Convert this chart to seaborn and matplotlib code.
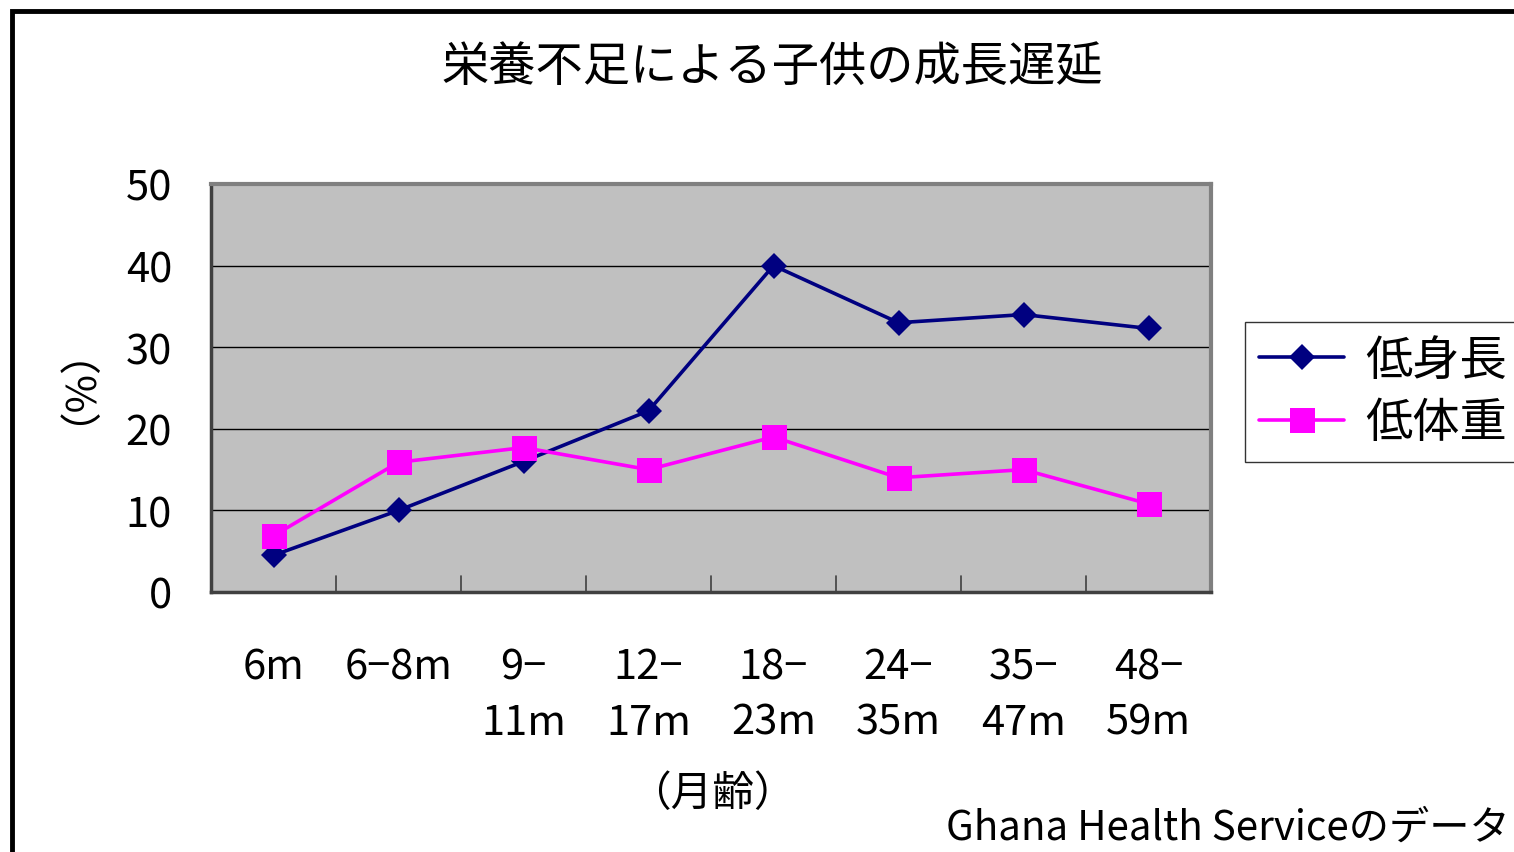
import matplotlib
matplotlib.use("Agg")
import matplotlib.pyplot as plt
import matplotlib.patches as patches
import numpy as np
import seaborn as sns

# データ
categories = ["6m", "6−8m", "9−\n11m", "12−\n17m", "18−\n23m", "24−\n35m", "35−\n47m", "48−\n59m"]
low_height = [4.5, 10, 16, 22.2, 40, 33, 34, 32.3]
low_weight = [6.9, 15.9, 17.7, 15, 19, 14, 15, 10.8]
series_names = ["低身長", "低体重"]

sns.set_style("white")
plt.rcParams['font.family'] = ['Noto Sans CJK JP', 'DejaVu Sans']
plt.rcParams['text.color'] = 'black'
plt.rcParams['xtick.color'] = 'black'
plt.rcParams['ytick.color'] = 'black'
plt.rcParams['axes.labelcolor'] = 'black'

pos = np.arange(len(categories))

fig = plt.figure(figsize=(15.14, 8.53), dpi=100)
ax = fig.add_axes([211 / 1514, 1 - 593 / 853, 1000 / 1514, 408 / 853])
ax.set_facecolor("#C0C0C0")

sns.lineplot(x=pos, y=low_height, color="#000080", marker="D", markersize=13,
             markeredgewidth=0, linewidth=2.6, label=series_names[0], ax=ax)
sns.lineplot(x=pos, y=low_weight, color="#FF00FF", marker="s", markersize=18,
             markeredgewidth=0, linewidth=2.6, label=series_names[1], ax=ax)

ax.set_xlim(-0.5, len(categories) - 0.5)
ax.set_ylim(0, 50)
ax.set_yticks([0, 10, 20, 30, 40, 50])
ax.set_xticks(pos)
ax.set_xticklabels(categories, fontsize=30, linespacing=1.45)
ax.tick_params(axis="y", labelsize=30, direction="in", length=10, width=1.5, pad=28)
ax.tick_params(axis="x", length=0, pad=39)
for v in [10, 20, 30, 40]:
    ax.axhline(v, color="black", lw=1, zorder=0.5)
for b in pos[:-1] + 0.5:
    ax.plot([b, b], [0, 2], color="#404040", lw=1.2, zorder=0.6)
for s in ["left", "bottom"]:
    ax.spines[s].set_color("#404040")
    ax.spines[s].set_linewidth(2.5)
for s in ["top", "right"]:
    ax.spines[s].set_color("#808080")
    ax.spines[s].set_linewidth(3)

ax.set_xlabel("（月齢）", fontsize=30)
ax.xaxis.set_label_coords((712 - 211) / 1000, (593 - 795) / 408)
ax.xaxis.label.set_va("center")
ax.set_ylabel("（%）", fontsize=30)
ax.yaxis.set_label_coords(-0.154, 0.561)
ax.yaxis.label.set_va("center")

leg = ax.legend(loc="upper left", bbox_to_anchor=(1245 / 1514, 1 - 323 / 853),
                bbox_transform=fig.transFigure, fontsize=34, frameon=True,
                fancybox=False, edgecolor="black", handlelength=1.8,
                borderpad=0.3, labelspacing=0.3, handletextpad=0.45, borderaxespad=0)
leg.get_frame().set_linewidth(1)

fig.text(772 / 1514, 1 - 68 / 853, "栄養不足による子供の成長遅延", fontsize=34,
         ha="center", va="center")
fig.text(1510 / 1514, 1 - 828 / 853, "Ghana Health Serviceのデータ", fontsize=29,
         ha="right", va="center")

# 外枠
fig.patches.append(patches.Rectangle((12 / 1514, -0.2), 1.2, 1 - 12 / 853 + 0.2,
                                     transform=fig.transFigure, fill=False,
                                     edgecolor="black", lw=3.5))

plt.savefig("out.png", dpi=100)
